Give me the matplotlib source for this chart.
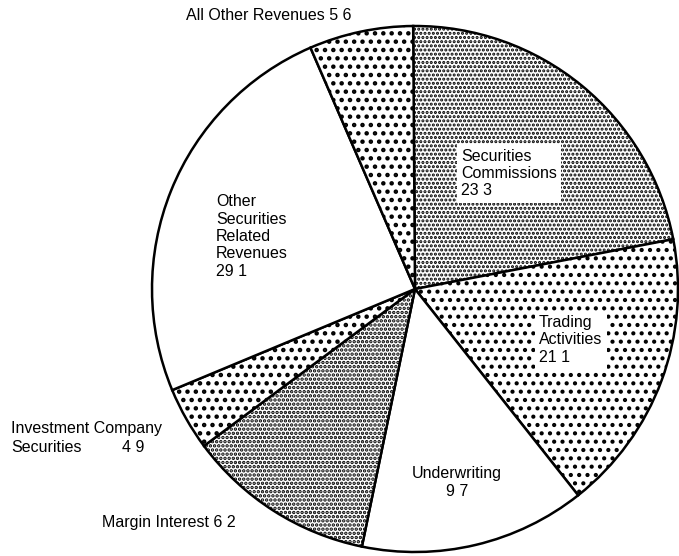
import matplotlib
matplotlib.use("Agg")
import matplotlib.pyplot as plt

plt.rcParams['font.family'] = ['Liberation Sans', 'DejaVu Sans']

# Data (values printed on the chart)
categories = ["Securities Commissions", "Trading Activities", "Underwriting",
              "Margin Interest", "Investment Company Securities",
              "Other Securities Related Revenues", "All Other Revenues"]
values = [23.3, 21.1, 9.7, 6.2, 4.9, 29.1, 5.6]
# Slice shares as actually drawn in the reference picture (percent of circle)
drawn_share = [22.1, 17.4, 13.9, 11.6, 3.9, 24.8, 6.4]

hatches = ['....', '..', '', '....', '..', '', '..']
hatch_lw = [1.5, 1.8, 1.0, 1.7, 2.0, 1.0, 2.0]

def fmt(v):
    return f"{v:.1f}".replace('.', ' ')

W, H = 679, 556
fig = plt.figure(figsize=(W / 100, H / 100), dpi=100)
ax = fig.add_axes([0, 0, 1, 1])

cx, cy, r = 415, H - 289, 263
wedges, _ = ax.pie(drawn_share, center=(cx, cy), radius=r, startangle=90.4,
                   counterclock=False, frame=True,
                   wedgeprops=dict(facecolor='white', edgecolor='black', linewidth=1.8))
ax.set_xlim(0, W)
ax.set_ylim(0, H)
ax.set_aspect('equal')
ax.axis('off')
for w, h, lw in zip(wedges, hatches, hatch_lw):
    if h:
        w.set_hatch(h)
        if hasattr(w, 'set_hatch_linewidth'):
            w.set_hatch_linewidth(lw)

fs = 11.5
box = dict(facecolor='white', edgecolor='none', pad=3)

ax.text(461, H - 173.5, "Securities\nCommissions\n" + fmt(values[0]), fontsize=fs,
        ha='left', va='center', linespacing=1.2, bbox=box)
ax.text(539, H - 340, "Trading\nActivities\n" + fmt(values[1]), fontsize=fs,
        ha='left', va='center', linespacing=1.2, bbox=box)
ax.text(457, H - 482.5, "Underwriting\n" + fmt(values[2]), fontsize=fs,
        ha='center', va='center', multialignment='center', linespacing=1.2)
ax.text(102, H - 522, "Margin Interest " + fmt(values[3]), fontsize=fs,
        ha='left', va='center')
ax.text(11, H - 429, "Investment Company", fontsize=fs, ha='left', va='center')
ax.text(11, H - 447, "Securities", fontsize=fs, ha='left', va='center')
ax.text(122, H - 447, fmt(values[4]), fontsize=fs, ha='left', va='center')
ax.text(216, H - 236.5, "Other\nSecurities\nRelated\nRevenues\n" + fmt(values[5]),
        fontsize=fs, ha='left', va='center', linespacing=1.2)
ax.text(186, H - 16, "All Other Revenues " + fmt(values[6]), fontsize=fs,
        ha='left', va='center')

fig.savefig("out.png", dpi=100)
